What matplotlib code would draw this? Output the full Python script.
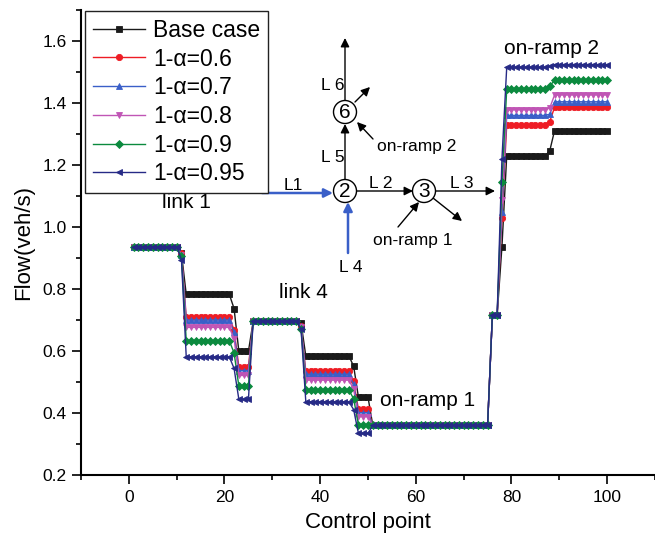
import matplotlib
matplotlib.use("Agg")
import matplotlib.pyplot as plt
from matplotlib.patches import Ellipse

plt.rcParams['font.family'] = ['Liberation Sans', 'DejaVu Sans']

control_point = list(range(1, 101))

base_case = ([0.936]*10 + [0.915] + [0.783]*10 + [0.737] + [0.599]*3 + [0.696]*10 + [0.691]
             + [0.584]*10 + [0.551] + [0.451]*3 + [0.360]*25 + [0.716]*2 + [0.936]
             + [1.229]*9 + [1.246] + [1.311]*12)
alpha_06 = ([0.936]*10 + [0.915] + [0.709]*10 + [0.668] + [0.549]*3 + [0.696]*10 + [0.681]
            + [0.534]*10 + [0.502] + [0.412]*3 + [0.360]*25 + [0.716]*2 + [1.030]
            + [1.329]*9 + [1.340] + [1.386]*12)
alpha_07 = ([0.936]*10 + [0.910] + [0.700]*10 + [0.660] + [0.537]*3 + [0.696]*10 + [0.681]
            + [0.525]*10 + [0.492] + [0.401]*3 + [0.360]*25 + [0.716]*2 + [1.050]
            + [1.360]*9 + [1.364] + [1.404]*12)
alpha_08 = ([0.936]*10 + [0.910] + [0.676]*10 + [0.640] + [0.521]*3 + [0.696]*10 + [0.676]
            + [0.506]*10 + [0.477] + [0.388]*3 + [0.360]*25 + [0.716]*2 + [1.086]
            + [1.378]*9 + [1.384] + [1.426]*12)
alpha_09 = ([0.936]*10 + [0.905] + [0.633]*10 + [0.594] + [0.487]*3 + [0.696]*10 + [0.671]
            + [0.474]*10 + [0.446] + [0.362]*3 + [0.360]*25 + [0.716]*2 + [1.144]
            + [1.444]*9 + [1.455] + [1.473]*12)
alpha_095 = ([0.936]*10 + [0.895] + [0.581]*10 + [0.544] + [0.444]*3 + [0.696]*10 + [0.671]
             + [0.436]*10 + [0.411] + [0.334]*3 + [0.360]*25 + [0.716]*2 + [1.219]
             + [1.515]*9 + [1.518] + [1.524]*12)

series_labels = ['Base case', '1-α=0.6', '1-α=0.7', '1-α=0.8', '1-α=0.9', '1-α=0.95']
series_values = [base_case, alpha_06, alpha_07, alpha_08, alpha_09, alpha_095]
colors = ['#1a1a1a', '#ee1c24', '#3a5fc8', '#c055b5', '#0b8a3e', '#262a86']
markers = ['s', 'o', '^', 'v', 'D', '<']
msizes = [4.5, 4.5, 4.8, 4.8, 4.0, 4.8]

xticks_major = [0, 20, 40, 60, 80, 100]
xticks_minor = [-10, 10, 30, 50, 70, 90, 110]
yticks_major = [0.2, 0.4, 0.6, 0.8, 1.0, 1.2, 1.4, 1.6]
yticks_minor = [0.3, 0.5, 0.7, 0.9, 1.1, 1.3, 1.5, 1.7]
ytick_labels = ['0.2', '0.4', '0.6', '0.8', '1.0', '1.2', '1.4', '1.6']

W, H = 655, 536
AX_L, AX_R, AX_T, AX_B = 81, 655, 10, 475

fig = plt.figure(figsize=(W/100, H/100), dpi=100)
ax = fig.add_axes([AX_L/W, (H-AX_B)/H, (AX_R-AX_L)/W, (AX_B-AX_T)/H])

for vals, lab, c, m, ms in zip(series_values, series_labels, colors, markers, msizes):
    ax.plot(control_point, vals, color=c, marker=m, markersize=ms, lw=1.0, label=lab,
            markeredgewidth=0.6, markeredgecolor=c)

ax.set_xlim(-10, 110)
ax.set_ylim(0.2, 1.7)
ax.set_xticks(xticks_major)
ax.set_xticks(xticks_minor, minor=True)
ax.set_yticks(yticks_major)
ax.set_yticks(yticks_minor, minor=True)
ax.set_yticklabels(ytick_labels)
ax.tick_params(axis='both', which='major', direction='out', length=6.5, width=1.2, labelsize=12.5, pad=4)
ax.tick_params(axis='both', which='minor', direction='out', length=3.8, width=1.2)
ax.spines['top'].set_visible(False)
ax.spines['right'].set_visible(False)
ax.spines['left'].set_linewidth(1.5)
ax.spines['bottom'].set_linewidth(1.5)
ax.set_xlabel('Control point', fontsize=16, labelpad=5)
ax.set_ylabel('Flow(veh/s)', fontsize=16, labelpad=6)

leg = ax.legend(loc='upper left', bbox_to_anchor=((85-AX_L)/(AX_R-AX_L), 1 - (11-AX_T)/(AX_B-AX_T)),
                fontsize=16.5, frameon=True, fancybox=False, edgecolor='#222222', framealpha=1,
                handlelength=2.27, handletextpad=0.35, labelspacing=0.25, borderpad=0.34,
                borderaxespad=0)
leg.get_frame().set_linewidth(1.0)
leg.set_zorder(10)

# region labels
for txt, (px, py) in [('link 1', (186, 203)), ('link 4', (303, 293)),
                      ('on-ramp 1', (428, 400)), ('on-ramp 2', (552, 49))]:
    ax.annotate(txt, xy=(px, H-py), xycoords='figure pixels', ha='center', va='center', fontsize=15)

# network schematic (figure pixels, y from top)
def fpx(px, py):
    return (px, H - py)

def arrow(p0, p1, color='black', lw=1.0):
    ax.annotate('', xy=fpx(*p1), xycoords='figure pixels', xytext=fpx(*p0), textcoords='figure pixels',
                arrowprops=dict(arrowstyle='-|>', color=color, lw=lw, mutation_scale=13,
                                shrinkA=0, shrinkB=0), annotation_clip=False, zorder=5)

arrow((262, 193), (333, 193), color='#3a5fc8', lw=1.8)
arrow((348, 253), (348, 202), color='#3a5fc8', lw=1.8)
arrow((357, 191), (413, 191))
arrow((436, 191), (495, 191))
arrow((433, 198), (462, 221))
arrow((398, 227), (419, 202))
arrow((345, 179), (345, 124))
arrow((345, 100), (345, 38))
arrow((355, 102), (370, 87))
arrow((373, 139), (357, 122))

for (cx, cy, lab) in [(345, 191, '2'), (424, 191, '3'), (345, 112, '6')]:
    e = Ellipse(fpx(cx, cy), width=23, height=23, transform=None, fc='white', ec='black', lw=1.0, zorder=6)
    fig.add_artist(e)
    fig.text(cx/W, (H-cy-0.5)/H, lab, ha='center', va='center', fontsize=15, zorder=8)

for txt, (px, py) in [('L1', (293, 185)), ('L 2', (381, 184)), ('L 3', (462, 183)),
                      ('L 4', (351, 268)), ('L 5', (333, 157)), ('L 6', (333, 86)),
                      ('on-ramp 1', (413, 240)), ('on-ramp 2', (417, 147))]:
    ax.annotate(txt, xy=fpx(px, py), xycoords='figure pixels', ha='center', va='center', fontsize=12.5)

fig.savefig('out.png', dpi=100)
